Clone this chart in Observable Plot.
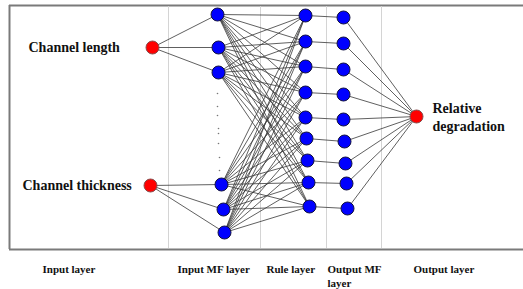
<!DOCTYPE html>
<html>
<head>
<meta charset="utf-8">
<script src="https://cdn.jsdelivr.net/npm/d3@7"></script>
<script src="https://cdn.jsdelivr.net/npm/@observablehq/plot@0.6"></script>
<style>
  html, body { margin: 0; padding: 0; background: #fff; }
  #chart svg { display: block; }
</style>
</head>
<body>
<div id="chart"></div>
<script>
// Network layers (diagram coordinates)
const inputNames = ["Channel length", "Channel thickness"];
const inputX = [152, 150];
const inputY = [47, 185];
const inputLabelX = [28, 22];

const mfX = [217, 218, 218, 221, 223, 224];
const mfY = [14, 47, 72, 184, 209, 232];
const mfInput = [0, 0, 0, 1, 1, 1];

const ruleX = [305, 305, 305, 305, 305, 306, 307, 308, 309];
const ruleY = [15, 41, 66, 92, 117, 138, 160, 182, 206];

const outMfX = [343, 343, 343, 343, 343, 344, 345, 346, 347];
const outMfY = [17, 43, 69, 94, 119, 141, 163, 183, 208];

const outputName = ["Relative", "degradation"];
const outputX = [416];
const outputY = [116];

const ellipsisY = [93, 106, 115, 128, 133, 143, 157, 170];
const ellipsisX = [217, 217, 217, 218, 218, 218, 219, 219];

const dividerX = [168, 260, 326, 381];
const layerNames = ["Input layer", "Input MF layer", "Rule layer", "Output MF\nlayer", "Output layer"];
const layerLabelX = [42, 177, 266, 327, 413];

// Build tables
const inputs = inputX.map((x, i) => ({x, y: inputY[i]}));
const mfs = mfX.map((x, i) => ({x, y: mfY[i]}));
const rules = ruleX.map((x, i) => ({x, y: ruleY[i]}));
const outMfs = outMfX.map((x, i) => ({x, y: outMfY[i]}));
const outputs = outputX.map((x, i) => ({x, y: outputY[i]}));

const links = [];
mfs.forEach((m, i) => links.push({x1: inputs[mfInput[i]].x, y1: inputs[mfInput[i]].y, x2: m.x, y2: m.y}));
mfs.forEach(m => rules.forEach(r => links.push({x1: m.x, y1: m.y, x2: r.x, y2: r.y})));
rules.forEach((r, i) => links.push({x1: r.x, y1: r.y, x2: outMfs[i].x, y2: outMfs[i].y}));
outMfs.forEach(o => links.push({x1: o.x, y1: o.y, x2: outputs[0].x, y2: outputs[0].y}));

const dots = ellipsisX.map((x, i) => ({x, y: ellipsisY[i]}));

const font = "'Liberation Serif', 'Times New Roman', serif";

const chart = Plot.plot({
  width: 523,
  height: 289,
  margin: 0,
  x: {domain: [0, 523], range: [0, 523], axis: null},
  y: {domain: [0, 289], range: [0, 289], axis: null},
  style: {background: "#fff"},
  marks: [
    // frame
    Plot.ruleY([5, 249], {x1: 9, x2: 523, stroke: "#7a7a7a", strokeWidth: 2}),
    Plot.ruleX([9], {y1: 5, y2: 249, stroke: "#7a7a7a", strokeWidth: 2}),
    // layer dividers
    Plot.ruleX(dividerX, {y1: 6, y2: 248, stroke: "#d4d4d4", strokeWidth: 1}),
    // connections
    Plot.link(links, {x1: "x1", y1: "y1", x2: "x2", y2: "y2", stroke: "#3a3a3a", strokeWidth: 0.9, strokeOpacity: 0.9}),
    // ellipsis dots
    Plot.dot(dots, {x: "x", y: "y", r: 0.8, fill: "#777", stroke: "none"}),
    // nodes
    Plot.dot(mfs, {x: "x", y: "y", r: 6.5, fill: "#0000ff", stroke: "#101040", strokeWidth: 1}),
    Plot.dot(rules, {x: "x", y: "y", r: 6.5, fill: "#0000ff", stroke: "#101040", strokeWidth: 1}),
    Plot.dot(outMfs, {x: "x", y: "y", r: 6.5, fill: "#0000ff", stroke: "#101040", strokeWidth: 1}),
    Plot.dot(inputs, {x: "x", y: "y", r: 6.5, fill: "#ff0000", stroke: "#8a4a4a", strokeWidth: 1}),
    Plot.dot(outputs, {x: "x", y: "y", r: 6.5, fill: "#ff0000", stroke: "#8a4a4a", strokeWidth: 1}),
    // input labels
    Plot.text(inputs, {x: (d, i) => inputLabelX[i], y: "y", text: (d, i) => inputNames[i], textAnchor: "start", fontSize: 14, fontWeight: "bold", fontFamily: font, fill: "#111"}),
    // output label
    Plot.text(outputs, {x: d => d.x + 16, y: "y", text: () => outputName.join("\n"), textAnchor: "start", lineHeight: 1.3, fontSize: 14, fontWeight: "bold", fontFamily: font, fill: "#111"}),
    // layer labels
    Plot.text(layerNames, {x: (d, i) => layerLabelX[i], y: 263, text: d => d, textAnchor: "start", lineAnchor: "top", lineHeight: 1.25, fontSize: 11, fontWeight: "bold", fontFamily: font, fill: "#111"})
  ]
});
document.getElementById("chart").appendChild(chart);
</script>
</body>
</html>
